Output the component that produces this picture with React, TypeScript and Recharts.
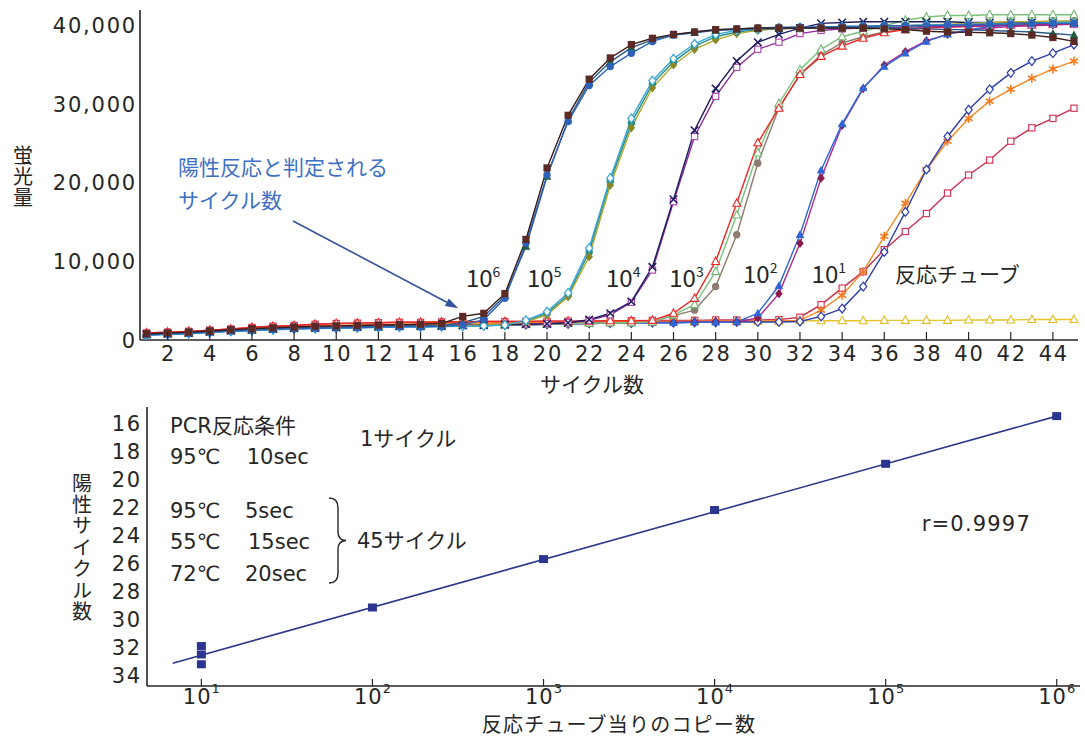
import React from 'react';
import { LineChart, Line, XAxis, YAxis, ReferenceLine, ComposedChart, Scatter } from 'recharts';

// ---------- Top chart data (fluorescence vs cycle) ----------
const cycles = [1, 2, 3, 4, 5, 6, 7, 8, 9, 10, 11, 12, 13, 14, 15, 16, 17, 18, 19, 20, 21, 22, 23, 24, 25, 26, 27, 28, 29, 30, 31, 32, 33, 34, 35, 36, 37, 38, 39, 40, 41, 42, 43, 44, 45];
const yTicksTop = [0, 10000, 20000, 30000, 40000];
const xTicksTop = [2, 4, 6, 8, 10, 12, 14, 16, 18, 20, 22, 24, 26, 28, 30, 32, 34, 36, 38, 40, 42, 44];

const ntc = [700, 800, 900, 1050, 1200, 1350, 1450, 1550, 1650, 1700, 1750, 1800, 1850, 1900, 1950, 2000, 2050, 2100, 2150, 2200, 2250, 2250, 2300, 2300, 2350, 2350, 2350, 2400, 2400, 2400, 2400, 2450, 2450, 2450, 2450, 2500, 2500, 2500, 2500, 2550, 2550, 2550, 2600, 2600, 2600];
const s1c = [900, 1000, 1100, 1250, 1400, 1600, 1750, 1850, 2000, 2100, 2150, 2200, 2250, 2250, 2300, 2300, 2350, 2350, 2350, 2400, 2400, 2400, 2450, 2450, 2500, 2500, 2500, 2550, 2550, 2550, 2600, 2900, 4500, 6600, 8700, 11500, 13800, 16100, 18700, 21000, 22900, 25300, 27000, 28200, 29500];
const s1b = [800, 900, 1000, 1150, 1300, 1500, 1600, 1700, 1800, 1850, 1900, 1950, 2000, 2050, 2100, 2150, 2200, 2200, 2250, 2250, 2300, 2300, 2300, 2350, 2350, 2350, 2400, 2400, 2400, 2400, 2450, 2500, 3800, 5700, 8700, 13200, 17400, 21700, 25300, 28200, 30400, 31900, 33300, 34500, 35500];
const s1a = [650, 750, 850, 1000, 1150, 1250, 1350, 1450, 1500, 1550, 1600, 1650, 1700, 1700, 1750, 1800, 1850, 1900, 1950, 2000, 2050, 2100, 2150, 2150, 2200, 2200, 2250, 2250, 2300, 2300, 2300, 2350, 3000, 4000, 6800, 11200, 16300, 21700, 25900, 29300, 31900, 34000, 35500, 36500, 37600];
const s2b = [700, 800, 900, 1050, 1200, 1300, 1400, 1500, 1550, 1600, 1650, 1700, 1750, 1750, 1800, 1850, 1900, 1950, 2000, 2050, 2100, 2150, 2200, 2200, 2250, 2250, 2300, 2300, 2300, 2800, 5900, 12300, 20600, 27300, 32000, 35000, 36700, 38100, 38900, 39400, 39700, 39900, 40000, 40100, 40200];
const s2a = [650, 750, 850, 1000, 1150, 1250, 1350, 1450, 1500, 1550, 1600, 1650, 1700, 1700, 1750, 1800, 1850, 1900, 1950, 2000, 2050, 2100, 2150, 2150, 2200, 2200, 2250, 2250, 2300, 3400, 6900, 13400, 21600, 27500, 32100, 34800, 36500, 38000, 38900, 39500, 39900, 40100, 40200, 40300, 40300];
const s3c = [650, 750, 850, 1000, 1150, 1250, 1350, 1450, 1500, 1550, 1600, 1650, 1700, 1700, 1750, 1800, 1850, 1900, 1950, 2000, 2050, 2100, 2150, 2150, 2300, 3100, 3800, 6800, 13400, 22500, 29500, 33800, 36300, 37800, 38600, 39200, 39600, 39800, 40000, 40100, 40200, 40300, 40400, 40400, 40500];
const s3b = [700, 800, 900, 1050, 1200, 1300, 1400, 1500, 1550, 1600, 1650, 1700, 1750, 1750, 1800, 1850, 1900, 1950, 2000, 2050, 2100, 2150, 2200, 2200, 2300, 3200, 4500, 8700, 15900, 23800, 30100, 34400, 37000, 38600, 39300, 40000, 40700, 41100, 41300, 41300, 41400, 41400, 41400, 41400, 41400];
const s3a = [900, 1000, 1100, 1250, 1400, 1600, 1750, 1850, 2000, 2100, 2150, 2200, 2250, 2250, 2300, 2300, 2350, 2350, 2350, 2400, 2400, 2400, 2450, 2450, 2500, 3400, 5300, 10000, 17400, 25100, 29500, 33800, 36100, 37400, 38400, 39100, 39500, 39700, 39800, 39900, 40000, 40100, 40100, 40200, 40200];
const s4b = [750, 850, 950, 1100, 1250, 1350, 1450, 1550, 1600, 1650, 1700, 1750, 1800, 1800, 1850, 1900, 1950, 2000, 2050, 2100, 2200, 2500, 3200, 4800, 8900, 17600, 25900, 31000, 34700, 37000, 37900, 39000, 39400, 39600, 39700, 39800, 39800, 39900, 39900, 40000, 40000, 40100, 40100, 40200, 40200];
const s4a = [700, 800, 900, 1050, 1200, 1300, 1400, 1500, 1550, 1600, 1650, 1700, 1750, 1750, 1800, 1850, 1900, 1950, 2000, 2050, 2200, 2600, 3400, 4900, 9300, 17900, 26700, 32000, 35500, 37900, 38900, 39700, 40300, 40400, 40500, 40500, 40500, 40500, 40500, 40400, 40400, 40400, 40400, 40400, 40400];
const s5c = [650, 750, 850, 1000, 1150, 1250, 1350, 1450, 1500, 1550, 1600, 1650, 1700, 1700, 1750, 1800, 1850, 1950, 2400, 3400, 5700, 11200, 20200, 27600, 32600, 35400, 37400, 38600, 39200, 39500, 39700, 39800, 39800, 39900, 39900, 40000, 40000, 40100, 40100, 40200, 40200, 40200, 40300, 40300, 40300];
const s5b = [700, 800, 900, 1050, 1200, 1300, 1400, 1500, 1550, 1600, 1650, 1700, 1750, 1750, 1800, 1850, 1900, 2000, 2300, 3200, 5500, 10600, 19700, 27000, 32100, 35000, 37000, 38200, 39000, 39400, 39600, 39700, 39800, 39800, 39900, 39900, 40000, 40100, 40200, 40300, 40400, 40500, 40500, 40600, 40600];
const s5a = [600, 700, 800, 950, 1100, 1200, 1300, 1400, 1450, 1500, 1550, 1600, 1650, 1650, 1700, 1750, 1800, 1900, 2500, 3600, 6000, 11700, 20600, 28200, 33000, 35800, 37700, 38900, 39400, 39600, 39700, 39800, 39800, 39900, 39900, 40000, 40000, 40100, 40100, 40200, 40200, 40300, 40300, 40400, 40400];
const s6c = [750, 850, 950, 1100, 1250, 1350, 1450, 1550, 1600, 1650, 1700, 1750, 1800, 1800, 1850, 2200, 3000, 5600, 11900, 20800, 28000, 32800, 35400, 37200, 38200, 38800, 39100, 39400, 39500, 39600, 39600, 39700, 39700, 39700, 39700, 39700, 39600, 39600, 39500, 39500, 39400, 39300, 39200, 39000, 38800];
const s6b = [650, 750, 850, 1000, 1150, 1250, 1350, 1450, 1500, 1550, 1600, 1650, 1700, 1700, 1750, 1900, 2600, 5300, 12300, 21000, 27800, 32400, 34800, 36500, 38000, 38800, 39200, 39500, 39600, 39700, 39800, 39800, 39800, 39900, 39900, 40000, 40000, 40000, 40100, 40100, 40200, 40200, 40300, 40300, 40300];
const s6a = [800, 900, 1000, 1150, 1300, 1450, 1550, 1650, 1750, 1800, 1850, 1900, 1950, 2000, 2100, 3000, 3400, 5900, 12800, 21900, 28600, 33200, 35900, 37600, 38400, 38900, 39200, 39500, 39600, 39700, 39700, 39700, 39700, 39700, 39700, 39600, 39500, 39300, 39200, 39150, 39100, 39000, 38800, 38500, 38000];

const seriesValues: Record<string, number[]> = { ntc, s1c, s1b, s1a, s2b, s2a, s3c, s3b, s3a, s4b, s4a, s5c, s5b, s5a, s6c, s6b, s6a };

// styles (separate from data)
type Kind = 'sq' | 'osq' | 'circ' | 'tri' | 'otri' | 'dia' | 'odia' | 'x' | 'ast';
const seriesStyles: { key: string; kind: Kind; color: string; line: string }[] = [
  { key: 'ntc', kind: 'otri', color: '#e3bb22', line: '#e8c42c' },
  { key: 's1c', kind: 'osq', color: '#d43a5c', line: '#c8304e' },
  { key: 's1b', kind: 'ast', color: '#f47a1c', line: '#f58a22' },
  { key: 's1a', kind: 'odia', color: '#2c3ea8', line: '#2c3ea8' },
  { key: 's2b', kind: 'dia', color: '#8a1c4c', line: '#b02a90' },
  { key: 's2a', kind: 'tri', color: '#2e68d6', line: '#2e68d6' },
  { key: 's3c', kind: 'circ', color: '#8c7c70', line: '#8c7c70' },
  { key: 's3b', kind: 'otri', color: '#72b872', line: '#7cc07c' },
  { key: 's3a', kind: 'otri', color: '#ee2626', line: '#ee2626' },
  { key: 's4b', kind: 'osq', color: '#b04cae', line: '#8c2a9a' },
  { key: 's4a', kind: 'x', color: '#1d1a5e', line: '#1d1a5e' },
  { key: 's5c', kind: 'circ', color: '#2a8c88', line: '#2a8c88' },
  { key: 's5b', kind: 'dia', color: '#8a8626', line: '#b3a92a' },
  { key: 's5a', kind: 'odia', color: '#34a6da', line: '#34a6da' },
  { key: 's6c', kind: 'tri', color: '#1e5c40', line: '#2a5a8a' },
  { key: 's6b', kind: 'circ', color: '#2e62b8', line: '#2e62b8' },
  { key: 's6a', kind: 'sq', color: '#5c2a24', line: '#3a1c18' },
];

const rows = cycles.map((c, i) => {
  const r: Record<string, number> = { cycle: c };
  seriesStyles.forEach((s) => {
    r[s.key] = seriesValues[s.key][i];
  });
  return r;
});

// annotation labels (copy number per curve group)
const groupLabelExp = ['6', '5', '4', '3', '2', '1'];

// ---------- Bottom chart data (standard curve) ----------
const copies = [10, 10, 10, 100, 1000, 10000, 100000, 1000000];
const ctValues = [31.9, 32.5, 33.2, 29.15, 25.7, 22.2, 18.9, 15.5];
const fitCopies = [6.8, 1000000];
const fitCt = [33.12, 15.5];
const xTicksBottom = [10, 100, 1000, 10000, 100000, 1000000];
const yTicksBottom = [16, 18, 20, 22, 24, 26, 28, 30, 32, 34];

const pointRows = copies.map((c, i) => ({ x: c, y: ctValues[i] }));
const fitRows = fitCopies.map((c, i) => ({ x: c, y: fitCt[i] }));

// ---------- styling ----------
const NUM_FONT = "'DejaVu Sans', 'Noto Sans CJK JP', sans-serif";
const JP_FONT = "'Noto Sans CJK JP', 'DejaVu Sans', sans-serif";
const INK = '#262626';

function Mark({ cx, cy, kind, color }: { cx: number; cy: number; kind: Kind; color: string }) {
  if (cx == null || cy == null || isNaN(cx) || isNaN(cy)) return null;
  const s = 3.6;
  switch (kind) {
    case 'sq':
      return <rect x={cx - s} y={cy - s} width={2 * s} height={2 * s} fill={color} />;
    case 'osq':
      return <rect x={cx - s + 0.5} y={cy - s + 0.5} width={2 * s - 1} height={2 * s - 1} fill="#fff" stroke={color} strokeWidth={1.2} />;
    case 'circ':
      return <circle cx={cx} cy={cy} r={3.7} fill={color} />;
    case 'tri':
      return <polygon points={`${cx},${cy - 4.6} ${cx + 4.3},${cy + 3.2} ${cx - 4.3},${cy + 3.2}`} fill={color} />;
    case 'otri':
      return <polygon points={`${cx},${cy - 4.4} ${cx + 4},${cy + 3} ${cx - 4},${cy + 3}`} fill="#fff" stroke={color} strokeWidth={1.1} />;
    case 'dia':
      return <polygon points={`${cx},${cy - 4.6} ${cx + 3.8},${cy} ${cx},${cy + 4.6} ${cx - 3.8},${cy}`} fill={color} />;
    case 'odia':
      return <polygon points={`${cx},${cy - 4.4} ${cx + 3.6},${cy} ${cx},${cy + 4.4} ${cx - 3.6},${cy}`} fill="#fff" stroke={color} strokeWidth={1.2} />;
    case 'x':
      return (
        <g stroke={color} strokeWidth={1.5}>
          <line x1={cx - 3.8} y1={cy - 3.8} x2={cx + 3.8} y2={cy + 3.8} />
          <line x1={cx - 3.8} y1={cy + 3.8} x2={cx + 3.8} y2={cy - 3.8} />
        </g>
      );
    case 'ast':
      return (
        <g stroke={color} strokeWidth={1.6}>
          <line x1={cx} y1={cy - 4.5} x2={cx} y2={cy + 4.5} />
          <line x1={cx - 4} y1={cy - 2.3} x2={cx + 4} y2={cy + 2.3} />
          <line x1={cx - 4} y1={cy + 2.3} x2={cx + 4} y2={cy - 2.3} />
        </g>
      );
    default:
      return null;
  }
}

const fmtThousands = (v: number) => v.toLocaleString('en-US');

const TopYTick = (p: any) => (
  <text x={p.x} y={p.y} dy={7.6} textAnchor="end" fontSize={21} fontFamily={NUM_FONT} fill={INK} letterSpacing={1.8}>
    {fmtThousands(p.payload.value)}
  </text>
);

const TopXTick = (p: any) => (
  <g>
    <line x1={p.x} x2={p.x} y1={p.y} y2={p.y - 8} stroke={INK} strokeWidth={1.2} />
    <text x={p.x + 0.9} y={p.y + 21} textAnchor="middle" fontSize={21} fontFamily={NUM_FONT} fill={INK} letterSpacing={1.8}>
      {p.payload.value}
    </text>
  </g>
);

const BotYTick = (p: any) => (
  <text x={p.x} y={p.y} dy={7.6} textAnchor="end" fontSize={21} fontFamily={NUM_FONT} fill={INK} letterSpacing={1.8}>
    {p.payload.value}
  </text>
);

const BotXTick = (p: any) => {
  const e = Math.round(Math.log10(p.payload.value));
  return (
    <g>
      <line x1={p.x} x2={p.x} y1={p.y} y2={p.y - 7} stroke={INK} strokeWidth={1.2} />
      <text x={p.x} y={p.y + 17.5} textAnchor="middle" fontFamily={NUM_FONT} fill={INK}>
        <tspan fontSize={21} letterSpacing={1}>10</tspan>
        <tspan fontSize={13} dy={-11}>{e}</tspan>
      </text>
    </g>
  );
};

const ArrowShape = (p: any) => {
  const { x1, y1, x2, y2 } = p;
  const ang = Math.atan2(y2 - y1, x2 - x1);
  const L = 13;
  const W = 4.2;
  const bx = x2 - L * Math.cos(ang);
  const by = y2 - L * Math.sin(ang);
  const nx = -Math.sin(ang);
  const ny = Math.cos(ang);
  return (
    <g>
      <line x1={x1} y1={y1} x2={bx} y2={by} stroke="#34529c" strokeWidth={1.6} />
      <polygon points={`${x2},${y2} ${bx + nx * W},${by + ny * W} ${bx - nx * W},${by - ny * W}`} fill="#34529c" />
    </g>
  );
};

// positions of the group labels in data coordinates (cycle, fluorescence)
const groupLabelAt = [
  { x: 16.15, y: 6800 },
  { x: 19.05, y: 6800 },
  { x: 22.8, y: 6800 },
  { x: 25.8, y: 6800 },
  { x: 29.3, y: 7200 },
  { x: 32.55, y: 7200 },
];

// vertical (top-to-bottom) Japanese axis title, one text element
const VerticalLabel = ({ x, top, spacing, text, size }: { x: number; top: number; spacing: number; text: string; size: number }) => (
  <text
    x={x}
    y={top}
    fontSize={size}
    fontFamily={JP_FONT}
    fill={INK}
    letterSpacing={spacing}
    style={{ writingMode: 'vertical-rl' as any }}
  >
    {text}
  </text>
);

export default function App() {
  return (
    <div style={{ position: 'absolute', left: 0, top: 0, width: 1085, height: 738, background: '#ffffff', overflow: 'hidden' }}>
      <div style={{ position: 'absolute', left: 0, top: 0 }}>
        <LineChart width={1085} height={400} data={rows} margin={{ top: 10, right: 7, bottom: 0, left: 0 }}>
          <XAxis
            dataKey="cycle"
            type="number"
            domain={[0.69, 45.19]}
            ticks={xTicksTop}
            allowDataOverflow
            height={60}
            tickSize={0}
            tickMargin={0}
            tickLine={false}
            tick={TopXTick}
            axisLine={{ stroke: INK, strokeWidth: 1.6 }}
            interval={0}
          />
          <YAxis
            type="number"
            domain={[0, 42000]}
            ticks={yTicksTop}
            allowDataOverflow
            width={140}
            tickSize={0}
            tickMargin={3}
            tickLine={false}
            tick={TopYTick}
            axisLine={{ stroke: INK, strokeWidth: 1.6 }}
            interval={0}
          />
          {seriesStyles.map((s) => (
            <Line
              key={s.key}
              dataKey={s.key}
              type="linear"
              stroke={s.line}
              strokeWidth={1.4}
              isAnimationActive={false}
              activeDot={false}
              dot={(p: any) => <Mark key={`${s.key}-${p.index}`} cx={p.cx} cy={p.cy} kind={s.kind} color={s.color} />}
            />
          ))}
          <ReferenceLine
            segment={[
              { x: 7.95, y: 15150 },
              { x: 15.79, y: 4030 },
            ]}
            ifOverflow="visible"
            shape={ArrowShape}
          />
          {groupLabelAt.map((g, i) => (
            <ReferenceLine
              key={`gl-${i}`}
              segment={[
                { x: g.x, y: g.y },
                { x: g.x, y: g.y },
              ]}
              ifOverflow="visible"
              shape={(p: any) => (
                <text x={p.x1} y={p.y1} fontFamily={JP_FONT} fill={INK}>
                  <tspan fontSize={24}>10</tspan>
                  <tspan fontSize={14} dy={-10}>{groupLabelExp[i]}</tspan>
                </text>
              )}
            />
          ))}
          <text x={895} y={282} fontSize={21} fontFamily={JP_FONT} fill={INK}>反応チューブ</text>
          <text x={178} y={175} fontSize={21} fontFamily={JP_FONT} fill="#3d6fc4">陽性反応と判定される</text>
          <text x={178} y={208} fontSize={21} fontFamily={JP_FONT} fill="#3d6fc4">サイクル数</text>
          <text x={592} y={392} fontSize={21} textAnchor="middle" fontFamily={JP_FONT} fill={INK}>サイクル数</text>
          <VerticalLabel x={23} top={145} spacing={1} text="蛍光量" size={20} />
        </LineChart>
      </div>

      <div style={{ position: 'absolute', left: 0, top: 400 }}>
        <ComposedChart width={1085} height={338} margin={{ top: 7, right: 5, bottom: 0, left: 0 }}>
          <XAxis
            dataKey="x"
            type="number"
            scale="log"
            domain={[4.81, 1368000]}
            ticks={xTicksBottom}
            allowDataOverflow
            height={52}
            tickSize={0}
            tickMargin={0}
            tickLine={false}
            tick={BotXTick}
            axisLine={{ stroke: INK, strokeWidth: 1.6 }}
            interval={0}
          />
          <YAxis
            dataKey="y"
            type="number"
            reversed
            domain={[14.85, 34.75]}
            ticks={yTicksBottom}
            allowDataOverflow
            width={147}
            tickSize={0}
            tickMargin={5}
            tickLine={false}
            tick={BotYTick}
            axisLine={{ stroke: INK, strokeWidth: 1.6 }}
            interval={0}
          />
          <Line data={fitRows} dataKey="y" type="linear" stroke="#2d3a8c" strokeWidth={1.6} dot={false} activeDot={false} isAnimationActive={false} />
          <Scatter
            data={pointRows}
            dataKey="y"
            isAnimationActive={false}
            shape={(p: any) => <rect x={p.cx - 4.5} y={p.cy - 4} width={9} height={8} fill="#2b3590" />}
          />
          <text x={170} y={32.5} fontSize={21} fontFamily={NUM_FONT} fill={INK}>PCR反応条件</text>
          <text x={170} y={63.5} fontSize={21} fontFamily={NUM_FONT} fill={INK}>95℃</text>
          <text x={246.7} y={63.5} fontSize={21} fontFamily={NUM_FONT} fill={INK}>10sec</text>
          <text x={360} y={45.5} fontSize={21} fontFamily={NUM_FONT} fill={INK}>1サイクル</text>
          <text x={170} y={117.5} fontSize={21} fontFamily={NUM_FONT} fill={INK}>95℃</text>
          <text x={245} y={117.5} fontSize={21} fontFamily={NUM_FONT} fill={INK}>5sec</text>
          <text x={170} y={149} fontSize={21} fontFamily={NUM_FONT} fill={INK}>55℃</text>
          <text x={248} y={149} fontSize={21} fontFamily={NUM_FONT} fill={INK}>15sec</text>
          <text x={170} y={181} fontSize={21} fontFamily={NUM_FONT} fill={INK}>72℃</text>
          <text x={245} y={181} fontSize={21} fontFamily={NUM_FONT} fill={INK}>20sec</text>
          <path d="M 329 98 Q 338 98 338 108 L 338 132 Q 338 140 346 140.5 Q 338 141 338 149 L 338 173 Q 338 183 329 183" fill="none" stroke={INK} strokeWidth={1.4} />
          <text x={357} y={147.5} fontSize={21} fontFamily={NUM_FONT} fill={INK}>45サイクル</text>
          <text x={921.7} y={130.5} fontSize={21} fontFamily={NUM_FONT} fill={INK} letterSpacing={1.2}>r=0.9997</text>
          <text x={619} y={332} fontSize={20} letterSpacing={1.2} textAnchor="middle" fontFamily={JP_FONT} fill={INK}>反応チューブ当りのコピー数</text>
          <VerticalLabel x={82} top={73} spacing={1.45} text="陽性サイクル数" size={20} />
        </ComposedChart>
      </div>
    </div>
  );
}
